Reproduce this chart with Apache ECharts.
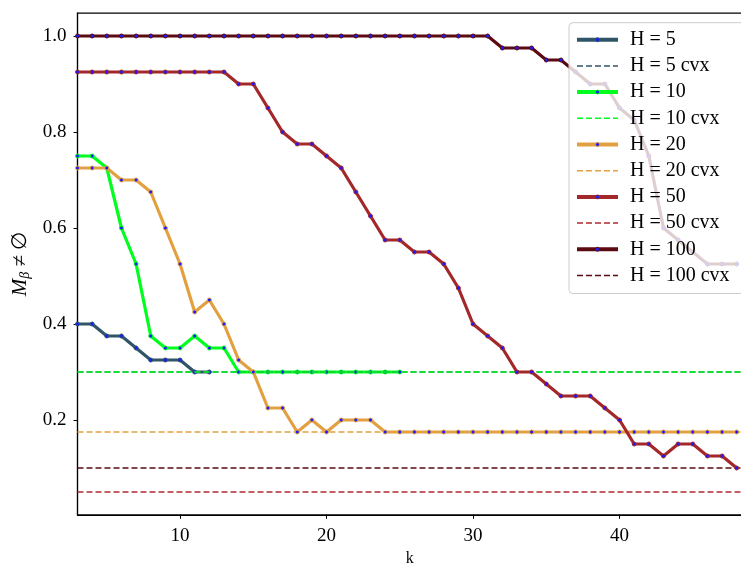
<!DOCTYPE html>
<html>
<head>
<meta charset="utf-8">
<script src="https://cdn.jsdelivr.net/npm/echarts@6/dist/echarts.min.js"></script>
<style>
  html, body { margin: 0; padding: 0; background: #ffffff; }
  #chart { width: 741px; height: 564px; }
</style>
</head>
<body>
<div id="chart"></div>
<script>
// k values shared by every curve (curves start at k = 3)
const kValues = [3, 4, 5, 6, 7, 8, 9, 10, 11, 12, 13, 14, 15, 16, 17, 18, 19, 20, 21, 22, 23, 24, 25,
  26, 27, 28, 29, 30, 31, 32, 33, 34, 35, 36, 37, 38, 39, 40, 41, 42, 43, 44, 45, 46, 47, 48];

// fraction of runs with M_beta non-empty, one array per horizon H
const h5 = [0.4, 0.4, 0.375, 0.375, 0.35, 0.325, 0.325, 0.325, 0.3, 0.3];
const h10 = [0.75, 0.75, 0.725, 0.6, 0.525, 0.375, 0.35, 0.35, 0.375, 0.35, 0.35, 0.3,
  0.3, 0.3, 0.3, 0.3, 0.3, 0.3, 0.3, 0.3, 0.3, 0.3, 0.3];
const h20 = [0.725, 0.725, 0.725, 0.7, 0.7, 0.675, 0.6, 0.525, 0.425, 0.45, 0.4, 0.325, 0.3,
  0.225, 0.225, 0.175, 0.2, 0.175, 0.2, 0.2, 0.2,
  0.175, 0.175, 0.175, 0.175, 0.175, 0.175, 0.175, 0.175, 0.175, 0.175, 0.175, 0.175, 0.175,
  0.175, 0.175, 0.175, 0.175, 0.175, 0.175, 0.175, 0.175, 0.175, 0.175, 0.175, 0.175];
const h50 = [0.925, 0.925, 0.925, 0.925, 0.925, 0.925, 0.925, 0.925, 0.925, 0.925, 0.925,
  0.9, 0.9, 0.85, 0.8, 0.775, 0.775, 0.75, 0.725, 0.675, 0.625, 0.575, 0.575, 0.55, 0.55,
  0.525, 0.475, 0.4, 0.375, 0.35, 0.3, 0.3, 0.275, 0.25, 0.25, 0.25, 0.225, 0.2,
  0.15, 0.15, 0.125, 0.15, 0.15, 0.125, 0.125, 0.1];
const h100 = [1.0, 1.0, 1.0, 1.0, 1.0, 1.0, 1.0, 1.0, 1.0, 1.0, 1.0, 1.0, 1.0, 1.0, 1.0,
  1.0, 1.0, 1.0, 1.0, 1.0, 1.0, 1.0, 1.0, 1.0, 1.0, 1.0, 1.0, 1.0, 1.0,
  0.975, 0.975, 0.975, 0.95, 0.95, 0.925, 0.9, 0.9, 0.85, 0.825, 0.75, 0.6, 0.575, 0.55,
  0.525, 0.525, 0.525];

// convex-relaxation level for each H
const cvxLevels = [0.3, 0.3, 0.175, 0.05, 0.1];

const horizonNames = ['H = 5', 'H = 10', 'H = 20', 'H = 50', 'H = 100'];
const curves = [h5, h10, h20, h50, h100];

// axis ticks
const xTicks = [10, 20, 30, 40];
const yTicks = [0.2, 0.4, 0.6, 0.8, 1.0];

const colors = ['#2f5566', '#00ff1e', '#e3a040', '#a3282a', '#5a0a10'];
const cvxColors = ['#2f5566', '#00ff1e', '#e3a040', '#b02a30', '#5a0a10'];
const markerColor = '#1a1aff';
const serif = '"Liberation Serif", "DejaVu Serif", serif';

const series = [];
const legendData = [];
curves.forEach((vals, i) => {
  series.push({
    name: horizonNames[i],
    type: 'line',
    z: 2 + 2 * i,
    data: vals.map((v, j) => [kValues[j], v]),
    symbol: 'circle',
    symbolSize: 4,
    showAllSymbol: true,
    lineStyle: { color: colors[i], width: 3.2 },
    itemStyle: { color: markerColor, borderColor: colors[i], borderWidth: 1 },
    emphasis: { disabled: true },
    animation: false
  });
  series.push({
    name: horizonNames[i] + ' cvx',
    type: 'line',
    z: 3 + 2 * i,
    data: [],
    symbol: 'none',
    lineStyle: { color: cvxColors[i], width: 1.5, type: [6, 3] },
    itemStyle: { color: cvxColors[i] },
    markLine: {
      silent: true,
      precision: 6,
      symbol: ['none', 'none'],
      label: { show: false },
      lineStyle: { color: cvxColors[i], width: 1.5, type: [6, 3] },
      data: [{ yAxis: cvxLevels[i] }],
      animation: false
    },
    animation: false
  });
  legendData.push({ name: horizonNames[i], lineStyle: { width: 4 }, itemStyle: { borderWidth: 0.8 } });
  legendData.push({
    name: horizonNames[i] + ' cvx',
    lineStyle: { width: 1.5 },
    itemStyle: { opacity: 0 }
  });
});

const chart = echarts.init(document.getElementById('chart'), null, { renderer: 'canvas' });
chart.setOption({
  animation: false,
  backgroundColor: '#ffffff',
  textStyle: { fontFamily: serif },
  grid: {
    left: 77.5, right: -1, top: 13.2, bottom: 49.2,
    outerBoundsMode: 'none',
    containLabel: false,
    show: true, borderColor: '#000000', borderWidth: 1.2, backgroundColor: 'transparent'
  },
  legend: {
    orient: 'vertical',
    left: 569,
    top: 22.7,
    z: 20,
    padding: [7, 40, 8, 6],
    itemWidth: 41,
    itemHeight: 5,
    itemGap: 6.2,
    backgroundColor: 'rgba(255,255,255,0.8)',
    borderColor: '#cccccc',
    borderWidth: 1,
    borderRadius: 4,
    selectedMode: false,
    textStyle: { fontFamily: serif, fontSize: 20, color: '#000000', lineHeight: 17, padding: [0, 0, 0, 7] },
    data: legendData
  },
  xAxis: {
    type: 'value',
    min: 3,
    max: 48.36,
    name: 'k',
    nameLocation: 'middle',
    nameGap: 35,
    nameTextStyle: { fontFamily: serif, fontSize: 16, color: '#000000' },
    splitLine: { show: false },
    axisLine: { show: true, lineStyle: { color: '#000000', width: 1.2 } },
    axisTick: { show: true, inside: false, length: 4, lineStyle: { color: '#000000', width: 1 }, customValues: xTicks },
    axisLabel: { customValues: xTicks, margin: 12, fontFamily: serif, fontSize: 19, color: '#000000' }
  },
  yAxis: {
    type: 'value',
    min: 0.0025,
    max: 1.0475,
    name: '{m|M}{b|β}{t| ≠ ∅}',
    nameLocation: 'middle',
    nameRotate: 90,
    nameGap: 43,
    nameTextStyle: {
      fontFamily: serif, fontSize: 20, color: '#000000',
      rich: {
        m: { fontFamily: serif, fontStyle: 'italic', fontSize: 21, color: '#000000' },
        b: { fontFamily: serif, fontStyle: 'italic', fontSize: 14, color: '#000000', padding: [9, 0, 0, 0] },
        t: { fontFamily: serif, fontSize: 21, color: '#000000' }
      }
    },
    splitLine: { show: false },
    axisLine: { show: true, lineStyle: { color: '#000000', width: 1.2 } },
    axisTick: { show: true, inside: false, length: 4, lineStyle: { color: '#000000', width: 1 }, customValues: yTicks },
    axisLabel: {
      customValues: yTicks, margin: 11, fontFamily: serif, fontSize: 19, color: '#000000',
      formatter: v => v.toFixed(1)
    }
  },
  series: series
});
</script>
</body>
</html>
